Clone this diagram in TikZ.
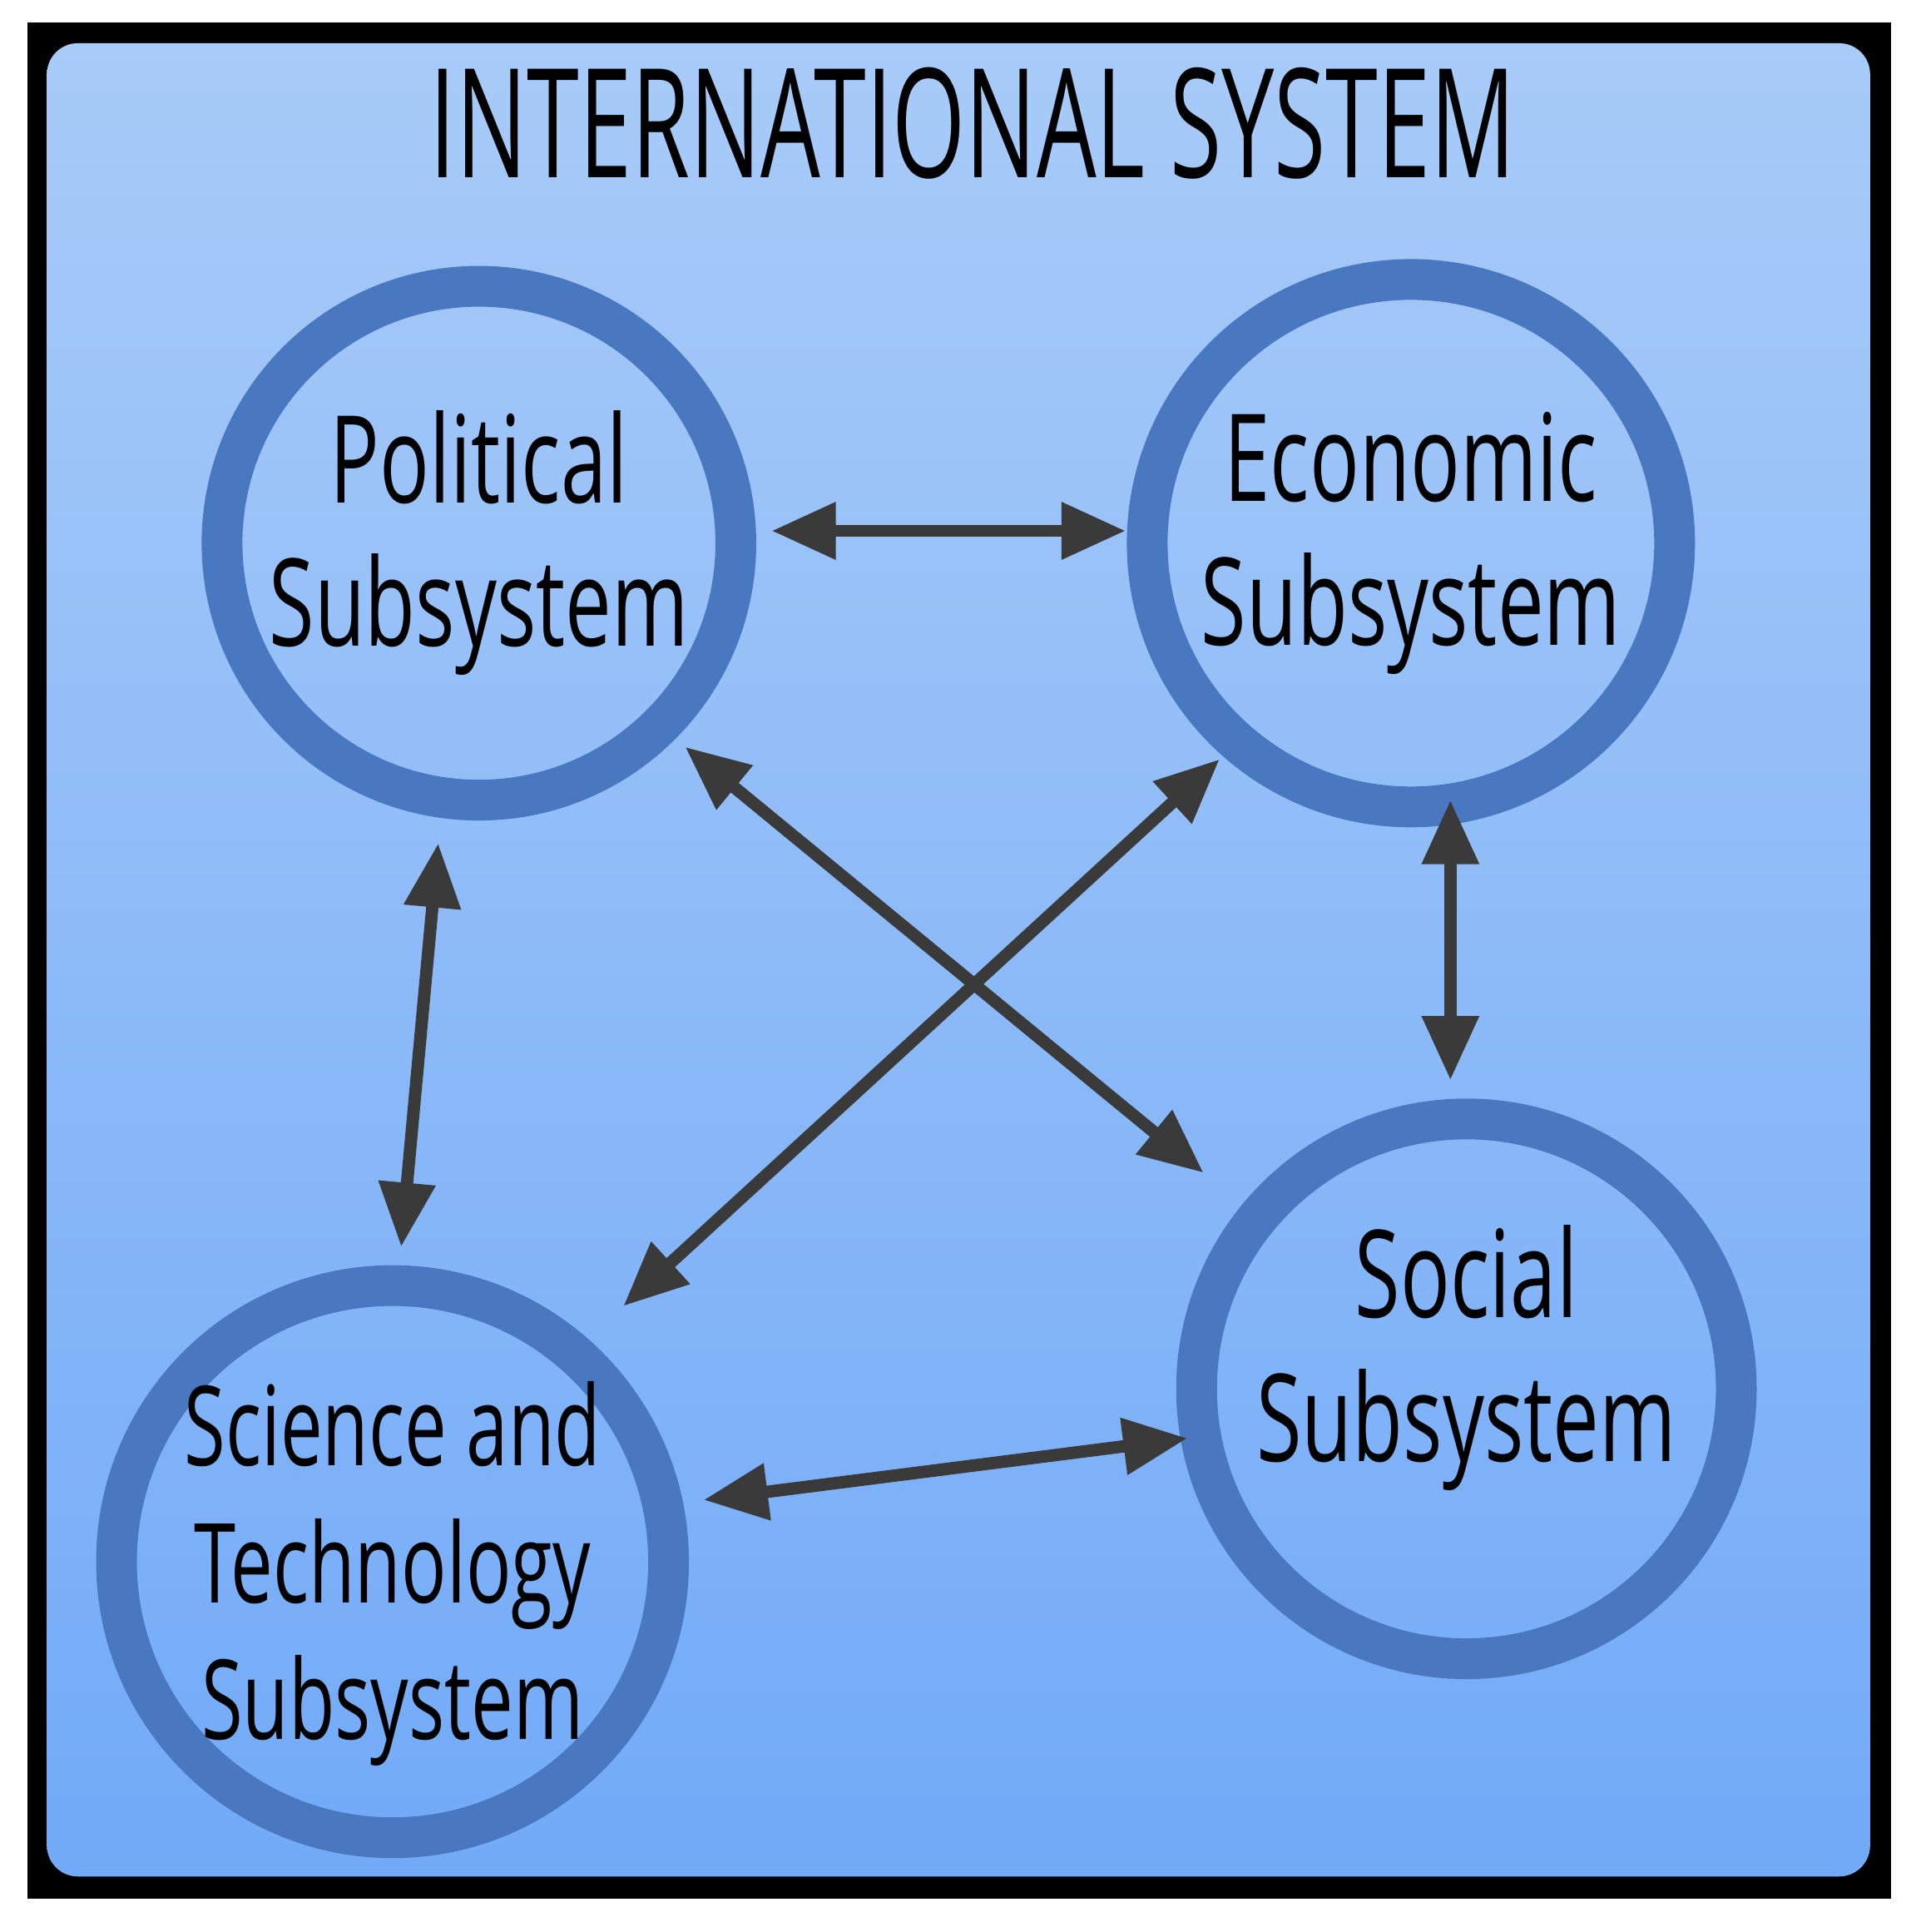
\documentclass[tikz,border=0pt]{standalone}
\usepackage{fontspec}
\setmainfont[FakeStretch=0.68]{Open Sans}
\newfontfamily\titlefont[FakeStretch=0.62]{Open Sans}
\usetikzlibrary{arrows.meta}
\definecolor{ring}{HTML}{4A78C0}
\definecolor{arr}{HTML}{3A3A3A}
\definecolor{topb}{HTML}{A8CBF8}
\definecolor{botb}{HTML}{72AAF8}
\tikzset{
  sub/.style={circle,draw=ring,line width=0.33cm,inner sep=0pt,outer sep=0pt},
  lab/.style={align=center,font=\fontsize{28}{33}\selectfont,text=black},
  link/.style={draw=arr,line width=0.1cm,{Triangle[length=0.52cm,width=0.44cm]}-{Triangle[length=0.52cm,width=0.44cm]}}
}
\begin{document}
\begin{tikzpicture}[x=0.01cm,y=-0.01cm]
\useasboundingbox (0,0) rectangle (1560,1565);
\fill[black] (22,18) rectangle (1532,1538);
\shade[top color=topb,bottom color=botb,rounded corners=0.25cm] (38,35) rectangle (1515,1520);
\node[font=\titlefont\fontsize{35}{40}\selectfont] (title) at (788,100) {INTERNATIONAL SYSTEM};
\node[sub,minimum size=4.16cm] (pol) at (388,440) {};
\node[sub,minimum size=4.27cm] (eco) at (1143,440) {};
\node[sub,minimum size=4.37cm] (soc) at (1188,1125) {};
\node[sub,minimum size=4.47cm] (sci) at (318,1265) {};
\node[lab] (polt) at (pol) {Political\\Subsystem};
\node[lab] (ecot) at (eco) {Economic\\Subsystem};
\node[lab] (soct) at ([yshift=0.25cm]soc) {Social\\Subsystem};
\node[lab,font=\fontsize{25.5}{31.5}\selectfont] (scit) at ([yshift=-0.1cm]sci) {Science and\\Technology\\Subsystem};
\coordinate (a1) at (625,430); \coordinate (a2) at (912,430);
\coordinate (b1) at (555,605); \coordinate (b2) at (975,950);
\coordinate (c1) at (988,615); \coordinate (c2) at (505,1058);
\coordinate (d1) at (1175,648); \coordinate (d2) at (1175,875);
\coordinate (e1) at (355,683); \coordinate (e2) at (325,1010);
\coordinate (f1) at (570,1215); \coordinate (f2) at (962,1165);
\draw[link] (a1) -- (a2);
\draw[link] (b1) -- (b2);
\draw[link] (c1) -- (c2);
\draw[link] (d1) -- (d2);
\draw[link] (e1) -- (e2);
\draw[link] (f1) -- (f2);
\end{tikzpicture}
\end{document}
